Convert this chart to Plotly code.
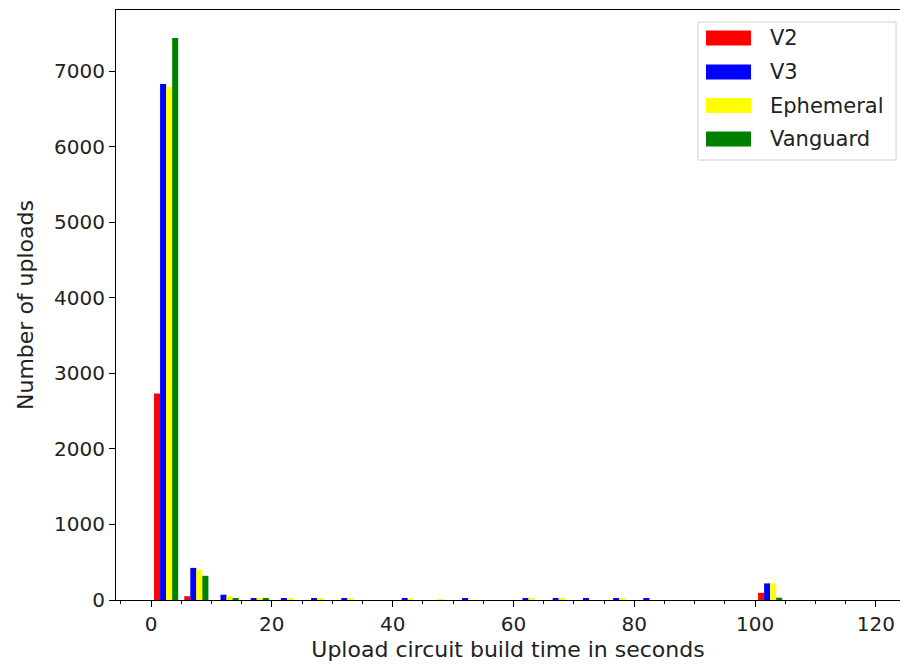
import plotly.graph_objects as go

bin_starts = list(range(0, 120, 5))
series_names = ["V2", "V3", "Ephemeral", "Vanguard"]
colors = ["red", "blue", "yellow", "green"]

v2 =        [2734, 50, 0, 0, 0, 0, 0, 0, 0, 0, 0, 0, 0, 0, 0, 0, 0, 0, 0, 0, 95, 0, 0, 0]
v3 =        [6830, 425, 70, 25, 25, 25, 25, 0, 20, 0, 20, 0, 20, 20, 15, 20, 20, 0, 0, 0, 220, 0, 0, 0]
ephemeral = [6790, 400, 50, 20, 15, 15, 15, 0, 10, 10, 0, 0, 15, 15, 0, 15, 0, 0, 0, 0, 220, 0, 0, 0]
vanguard =  [7437, 320, 25, 25, 0, 0, 0, 0, 0, 0, 0, 0, 0, 0, 0, 0, 0, 0, 0, 0, 30, 0, 0, 0]

data = [v2, v3, ephemeral, vanguard]
centers = [b + 2.5 for b in bin_starts]

W, H = 900, 666
ML, MR, MT, MB = 116, 0, 10, 66
PW, PH = W - ML - MR, H - MT - MB

def px(x):
    return (x - ML) / PW

def py(y):
    return 1 - (y - MT) / PH

fig = go.Figure()
for name, col, vals in zip(series_names, colors, data):
    fig.add_trace(go.Bar(x=centers, y=vals, name=name, marker=dict(color=col, line=dict(width=0))))

# matplotlib-style legend box
shapes = [dict(type="rect", xref="paper", yref="paper", x0=px(698), x1=px(896), y0=py(160), y1=py(22),
               line=dict(color="#d0d0d0", width=1), fillcolor="rgba(255,255,255,0.8)", layer="above")]
annotations = []
row_y = [38, 72, 105.5, 139]
for name, col, yc in zip(series_names, colors, row_y):
    shapes.append(dict(type="rect", xref="paper", yref="paper", x0=px(706), x1=px(751),
                       y0=py(yc + 7.5), y1=py(yc - 7.5), line=dict(width=0), fillcolor=col, layer="above"))
    annotations.append(dict(x=px(768), y=py(yc), xref="paper", yref="paper", text=name, showarrow=False,
                            xanchor="left", yanchor="middle",
                            font=dict(family="DejaVu Sans", size=21, color="#222")))

fig.update_layout(
    width=W, height=H,
    margin=dict(l=ML, r=MR, t=MT, b=MB),
    barmode="group", bargap=0.2, bargroupgap=0,
    plot_bgcolor="white", paper_bgcolor="white",
    font=dict(family="DejaVu Sans", size=20, color="#222"),
    showlegend=False,
    shapes=shapes, annotations=annotations,
)
fig.update_xaxes(range=[-5.8, 124.0], tickmode="array", tickvals=[0, 20, 40, 60, 80, 100, 120],
                 ticks="outside", ticklen=6, tickwidth=1, tickcolor="black",
                 minor=dict(dtick=5, tick0=0, ticks="outside", ticklen=3, tickcolor="black"),
                 showline=True, linecolor="black", linewidth=1, mirror=True,
                 showgrid=False, zeroline=False, automargin=False,
                 title=dict(text="Upload circuit build time in seconds", standoff=6,
                            font=dict(family="DejaVu Sans", size=22, color="#222")))
fig.update_yaxes(range=[0, 7809], tickmode="array", tickvals=[0, 1000, 2000, 3000, 4000, 5000, 6000, 7000],
                 ticks="outside", ticklen=6, tickwidth=1, tickcolor="black",
                 showline=True, linecolor="black", linewidth=1, mirror=False,
                 showgrid=False, zeroline=False, automargin=False,
                 title=dict(text="Number of uploads", standoff=14,
                            font=dict(family="DejaVu Sans", size=22, color="#222")))

fig.write_html("out.html")
